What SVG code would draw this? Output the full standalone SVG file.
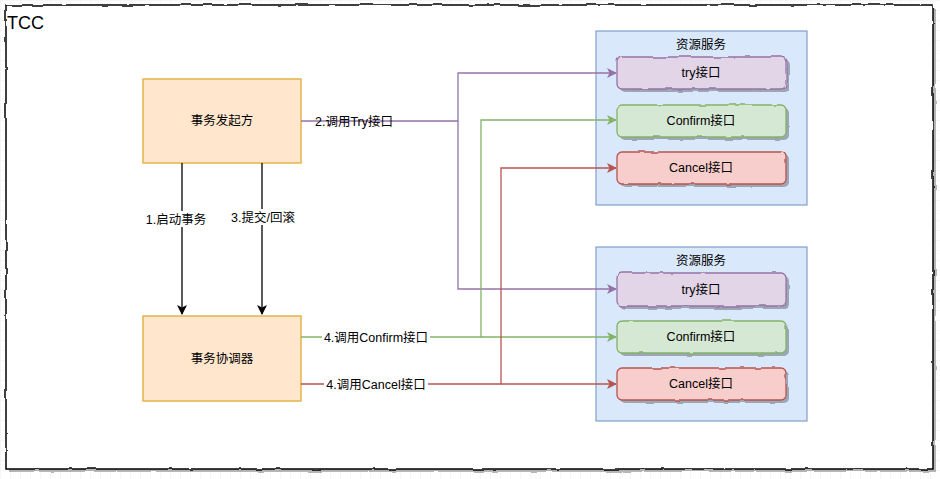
<svg xmlns="http://www.w3.org/2000/svg" width="940" height="479" viewBox="0 0 940 479">
<defs>
<pattern id="grid" width="10" height="10" patternUnits="userSpaceOnUse">
<path d="M10 0 L0 0 0 10" fill="none" stroke="#eeeeee" stroke-width="1"/>
</pattern>
<filter id="rough" x="-5%" y="-5%" width="110%" height="110%">
<feTurbulence type="fractalNoise" baseFrequency="0.06" numOctaves="2" seed="3"/>
<feDisplacementMap in="SourceGraphic" scale="3" xChannelSelector="R" yChannelSelector="G"/>
</filter>
<filter id="roughS" x="-5%" y="-5%" width="110%" height="110%">
<feTurbulence type="fractalNoise" baseFrequency="0.06" numOctaves="2" seed="3"/>
<feDisplacementMap in="SourceGraphic" scale="3" xChannelSelector="R" yChannelSelector="G" result="d"/>
<feGaussianBlur in="d" stdDeviation="0.6"/>
</filter>
<marker id="aP" viewBox="0 0 10 10" refX="9" refY="5" markerWidth="10" markerHeight="10" markerUnits="userSpaceOnUse" orient="auto">
<path d="M0 0 L10 5 L0 10 L2.5 5 Z" fill="#9673a6"/>
</marker>
<marker id="aG" viewBox="0 0 10 10" refX="9" refY="5" markerWidth="10" markerHeight="10" markerUnits="userSpaceOnUse" orient="auto">
<path d="M0 0 L10 5 L0 10 L2.5 5 Z" fill="#82b366"/>
</marker>
<marker id="aR" viewBox="0 0 10 10" refX="9" refY="5" markerWidth="10" markerHeight="10" markerUnits="userSpaceOnUse" orient="auto">
<path d="M0 0 L10 5 L0 10 L2.5 5 Z" fill="#b85450"/>
</marker>
<marker id="aK" viewBox="0 0 10 10" refX="9" refY="5" markerWidth="10" markerHeight="10" markerUnits="userSpaceOnUse" orient="auto">
<path d="M0 0 L10 5 L0 10 L2.5 5 Z" fill="#000000"/>
</marker>
</defs>
<style>
text { font-family: "Liberation Sans", "Noto Sans CJK SC", sans-serif; font-size: 12.5px; fill: #000; }
.main { fill: #ffe6cc; stroke: #e3b54a; stroke-width: 1.5; }
.svc { fill: #dae8fc; stroke: #6c8ebf; stroke-width: 1; }
.shadow { fill: #000; opacity: 0.28; }
.try { fill: #e1d5e7; stroke: #9673a6; stroke-width: 1.3; }
.conf { fill: #d5e8d4; stroke: #82b366; stroke-width: 1.3; }
.canc { fill: #f8cecc; stroke: #b85450; stroke-width: 1.3; }
.lbl { fill: #ffffff; }
.c { text-anchor: middle; }
</style>
<rect x="0" y="0" width="940" height="479" fill="#ffffff"/>
<rect x="0" y="0" width="940" height="479" fill="url(#grid)"/>

<g id="frame">
<rect x="9" y="8" width="927" height="464" class="shadow" filter="url(#roughS)" opacity="0.25"/>
<rect x="6" y="5" width="927" height="464" fill="#ffffff" stroke="#000000" stroke-width="1.5" filter="url(#rough)"/>
<text x="7" y="29" style="font-size:18px">TCC</text>
</g>

<g id="initiator">
<rect x="143" y="79" width="158" height="84" class="main"/>
<text x="222" y="125" class="c">事务发起方</text>
</g>

<g id="coordinator">
<rect x="143" y="316" width="158" height="85" class="main"/>
<text x="222" y="363" class="c">事务协调器</text>
</g>

<g id="service1">
<rect x="596" y="31" width="211" height="174" class="svc"/>
<text x="701" y="49" class="c">资源服务</text>
</g>
<g id="try1">
<rect x="620" y="60" width="169" height="32" rx="5" class="shadow" filter="url(#roughS)"/>
<rect x="617" y="57" width="169" height="32" rx="5" class="try" filter="url(#rough)"/>
<text x="701" y="77" class="c">try接口</text>
</g>
<g id="confirm1">
<rect x="620" y="108" width="169" height="32" rx="5" class="shadow" filter="url(#roughS)"/>
<rect x="617" y="105" width="169" height="32" rx="5" class="conf" filter="url(#rough)"/>
<text x="701" y="125" class="c">Confirm接口</text>
</g>
<g id="cancel1">
<rect x="620" y="155" width="169" height="32" rx="5" class="shadow" filter="url(#roughS)"/>
<rect x="617" y="152" width="169" height="32" rx="5" class="canc" filter="url(#rough)"/>
<text x="701" y="172" class="c">Cancel接口</text>
</g>

<g id="service2">
<rect x="596" y="247" width="211" height="174" class="svc"/>
<text x="701" y="265" class="c">资源服务</text>
</g>
<g id="try2">
<rect x="620" y="276" width="169" height="33" rx="5" class="shadow" filter="url(#roughS)"/>
<rect x="617" y="273" width="169" height="33" rx="5" class="try" filter="url(#rough)"/>
<text x="701" y="294" class="c">try接口</text>
</g>
<g id="confirm2">
<rect x="620" y="324" width="169" height="32" rx="5" class="shadow" filter="url(#roughS)"/>
<rect x="617" y="321" width="169" height="32" rx="5" class="conf" filter="url(#rough)"/>
<text x="701" y="341" class="c">Confirm接口</text>
</g>
<g id="cancel2">
<rect x="620" y="371" width="169" height="32" rx="5" class="shadow" filter="url(#roughS)"/>
<rect x="617" y="368" width="169" height="32" rx="5" class="canc" filter="url(#rough)"/>
<text x="701" y="388" class="c">Cancel接口</text>
</g>

<g id="connectors" fill="none" stroke-width="1.3">
<path d="M182 163 V314" stroke="#000" marker-end="url(#aK)"/>
<path d="M262 163 V314" stroke="#000" marker-end="url(#aK)"/>
<path d="M301 121 H458 V73 H616" stroke="#9673a6" marker-end="url(#aP)"/>
<path d="M458 121 V289 H616" stroke="#9673a6" marker-end="url(#aP)"/>
<path d="M301 337 H481 V120 H616" stroke="#82b366" marker-end="url(#aG)"/>
<path d="M481 337 H616" stroke="#82b366" marker-end="url(#aG)"/>
<path d="M301 384 H501 V168 H616" stroke="#b85450" marker-end="url(#aR)"/>
<path d="M501 384 H616" stroke="#b85450" marker-end="url(#aR)"/>
<rect x="144" y="211" width="65" height="16" class="lbl"/>
<text x="176" y="224" class="c">1.启动事务</text>
<rect x="230" y="209" width="66" height="16" class="lbl"/>
<text x="263" y="222" class="c">3.提交/回滚</text>
<text x="354" y="126" class="c">2.调用Try接口</text>
<rect x="322" y="329" width="108" height="16" class="lbl"/>
<text x="376" y="342" class="c">4.调用Confirm接口</text>
<rect x="324" y="376" width="104" height="16" class="lbl"/>
<text x="376" y="389" class="c">4.调用Cancel接口</text>
</g>
</svg>
